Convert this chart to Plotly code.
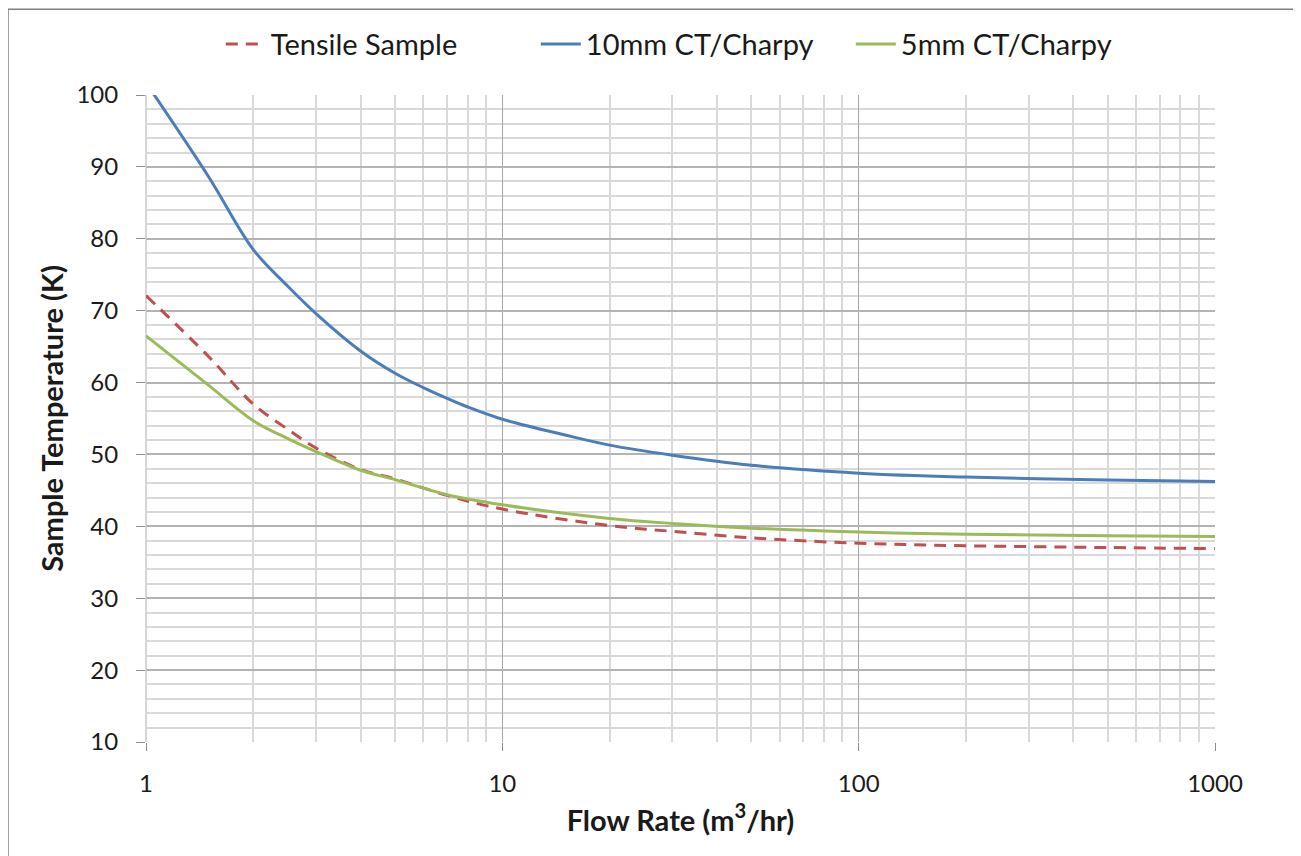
import plotly.graph_objects as go

# Data
flow_blue = [1, 1.5, 2, 2.5, 3, 4, 5, 6, 7, 8, 10, 15, 20, 30, 50, 100, 200, 500, 1000]
temp_blue = [101.7, 88.6, 78.5, 73.4, 69.6, 64.4, 61.3, 59.3, 57.8, 56.6, 54.9, 52.7, 51.3, 49.9, 48.5, 47.4, 46.85, 46.45, 46.25]

flow_red = [1, 1.5, 2, 2.5, 3, 4, 5, 7, 10, 20, 30, 50, 100, 200, 500, 1000]
temp_red = [72.1, 63.6, 57.0, 53.5, 50.9, 47.9, 46.6, 44.3, 42.4, 40.1, 39.3, 38.4, 37.65, 37.3, 37.05, 36.9]

flow_green = [1, 1.5, 2, 2.5, 3, 4, 5, 7, 10, 20, 30, 50, 100, 200, 500, 1000]
temp_green = [66.5, 59.6, 54.7, 52.2, 50.4, 47.8, 46.5, 44.4, 43.0, 41.1, 40.4, 39.75, 39.2, 38.9, 38.7, 38.6]

series_names = ["Tensile Sample", "10mm CT/Charpy", "5mm CT/Charpy"]
x_ticks = [1, 10, 100, 1000]
x_ticktext = ["1", "10", "100", "1000"]

FONT = "Lato, 'Open Sans', sans-serif"
TXT = "#1a1a1a"

fig = go.Figure()
fig.add_trace(go.Scatter(x=flow_red, y=temp_red, mode="lines", name=series_names[0],
                         line=dict(color="#C0504D", width=3, dash="12px,8px", shape="spline", smoothing=1.0)))
fig.add_trace(go.Scatter(x=flow_blue, y=temp_blue, mode="lines", name=series_names[1],
                         line=dict(color="#4A7EBB", width=3, shape="spline", smoothing=1.0)))
fig.add_trace(go.Scatter(x=flow_green, y=temp_green, mode="lines", name=series_names[2],
                         line=dict(color="#9BBB59", width=3, shape="spline", smoothing=1.0)))

fig.update_layout(
    width=1301, height=856,
    margin=dict(l=138, r=94, t=86, b=122),
    paper_bgcolor="white", plot_bgcolor="white",
    font=dict(family=FONT, size=24, color=TXT),
    showlegend=True,
    legend=dict(orientation="h", x=0.070, xanchor="left", y=1.077, yanchor="middle",
                font=dict(size=29, color=TXT), itemwidth=40, tracegroupgap=0,
                entrywidth=260, entrywidthmode="pixels"),
    xaxis=dict(
        type="log", range=[0, 3],
        tickvals=x_ticks, ticktext=x_ticktext,
        ticks="outside", ticklen=8, tickcolor="#8c8c8c", tickwidth=1,
        ticklabelstandoff=12,
        showgrid=True, gridcolor="#a6a6a6", gridwidth=1,
        minor=dict(tickvals=[v * d for d in (1, 10, 100) for v in range(2, 10)],
                   showgrid=True, gridcolor="#d9d9d9", gridwidth=1.5, ticks=""),
        showline=False, zeroline=False,
        tickfont=dict(size=24, color=TXT),
        title=dict(text="<b>Flow Rate (m<sup>3</sup>/hr)</b>", font=dict(size=29, color=TXT), standoff=14),
    ),
    yaxis=dict(
        range=[10, 100], dtick=10, tick0=10,
        ticks="outside", ticklen=9, tickcolor="#8c8c8c", tickwidth=1,
        ticklabelstandoff=13,
        showgrid=True, gridcolor="#b3b3b3", gridwidth=1.5,
        minor=dict(dtick=2, showgrid=True, gridcolor="#d9d9d9", gridwidth=1.5, ticks=""),
        showline=False, zeroline=False,
        tickfont=dict(size=24, color=TXT),
        title=dict(text="<b>Sample Temperature (K)</b>", font=dict(size=29, color=TXT), standoff=4),
    ),
)

# Left vertical line of the plot (x=1) and outer chart border
fig.add_shape(type="line", xref="paper", yref="paper", x0=0, x1=0, y0=0, y1=1,
              line=dict(color="#c8c8c8", width=1.5), layer="below")
fig.add_shape(type="rect", xref="paper", yref="paper",
              x0=-0.1291, x1=1.09, y0=-0.2, y1=1.1327,
              line=dict(color="#7f7f7f", width=1.5), fillcolor="rgba(0,0,0,0)")

fig.write_html("out.html")
